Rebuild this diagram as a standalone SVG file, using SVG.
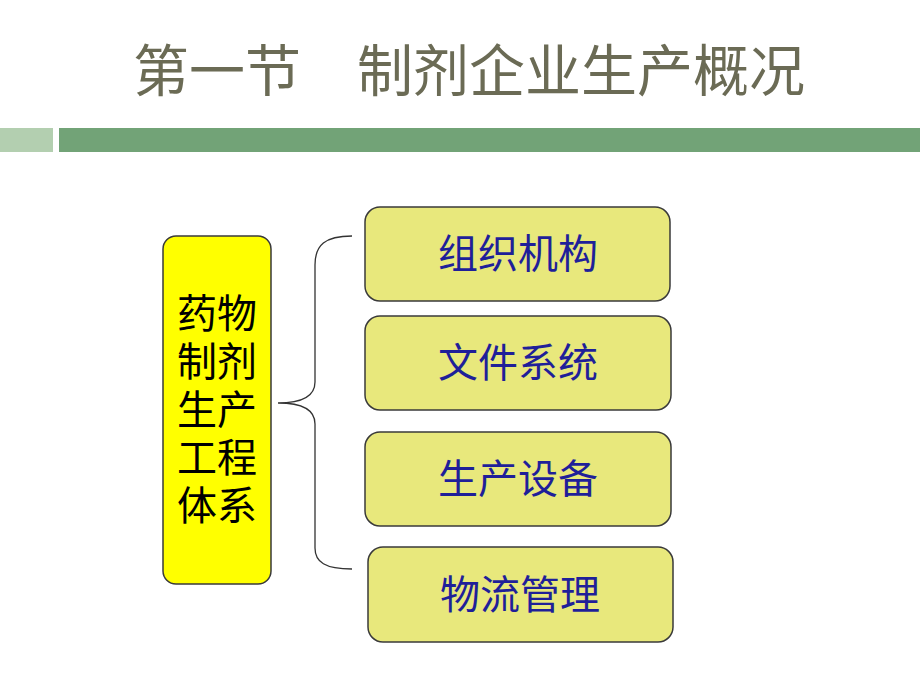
<svg xmlns="http://www.w3.org/2000/svg" width="920" height="690" viewBox="0 0 920 690">
<style>
.t{font-family:"Noto Sans CJK SC","Noto Sans",sans-serif;}
.title{font-size:56px;fill:#6b6b55;}
.box{fill:#e8e87c;stroke:#3a3a3a;stroke-width:1.5;}
.btxt{font-size:40px;fill:#1f1f99;text-anchor:middle;}
.ltxt{font-size:40px;fill:#000;text-anchor:middle;}
</style>
<rect width="920" height="690" fill="#fff"/>
<text class="t title" x="133" y="91">第一节　制剂企业生产概况</text>
<rect x="0" y="128" width="53" height="24" fill="#b3cfb0"/>
<rect x="59" y="128" width="861" height="24" fill="#72a377"/>
<g id="connectors">
<path d="M352,236 C325,236 315,245 315,265 L315,382 C315,398 300,403 278,403 C300,403 315,408 315,424 L315,548 C315,562 325,569 352,569" fill="none" stroke="#333" stroke-width="1.3"/>
</g>
<g id="main">
<rect x="163" y="236" width="108" height="348" rx="13" fill="#ffff00" stroke="#3a3a3a" stroke-width="1.5"/>
<text class="t ltxt" x="217" y="328">药物<tspan x="217" dy="48">制剂</tspan><tspan x="217" dy="48">生产</tspan><tspan x="217" dy="48">工程</tspan><tspan x="217" dy="48">体系</tspan></text>
</g>
<g id="n1">
<rect class="box" x="365" y="207" width="305" height="94" rx="15"/>
<text class="t btxt" x="518" y="268">组织机构</text>
</g>
<g id="n2">
<rect class="box" x="365" y="316" width="306" height="94" rx="15"/>
<text class="t btxt" x="518" y="377">文件系统</text>
</g>
<g id="n3">
<rect class="box" x="365" y="432" width="306" height="94" rx="15"/>
<text class="t btxt" x="518" y="493">生产设备</text>
</g>
<g id="n4">
<rect class="box" x="368" y="547" width="305" height="95" rx="15"/>
<text class="t btxt" x="520" y="609">物流管理</text>
</g>
</svg>
